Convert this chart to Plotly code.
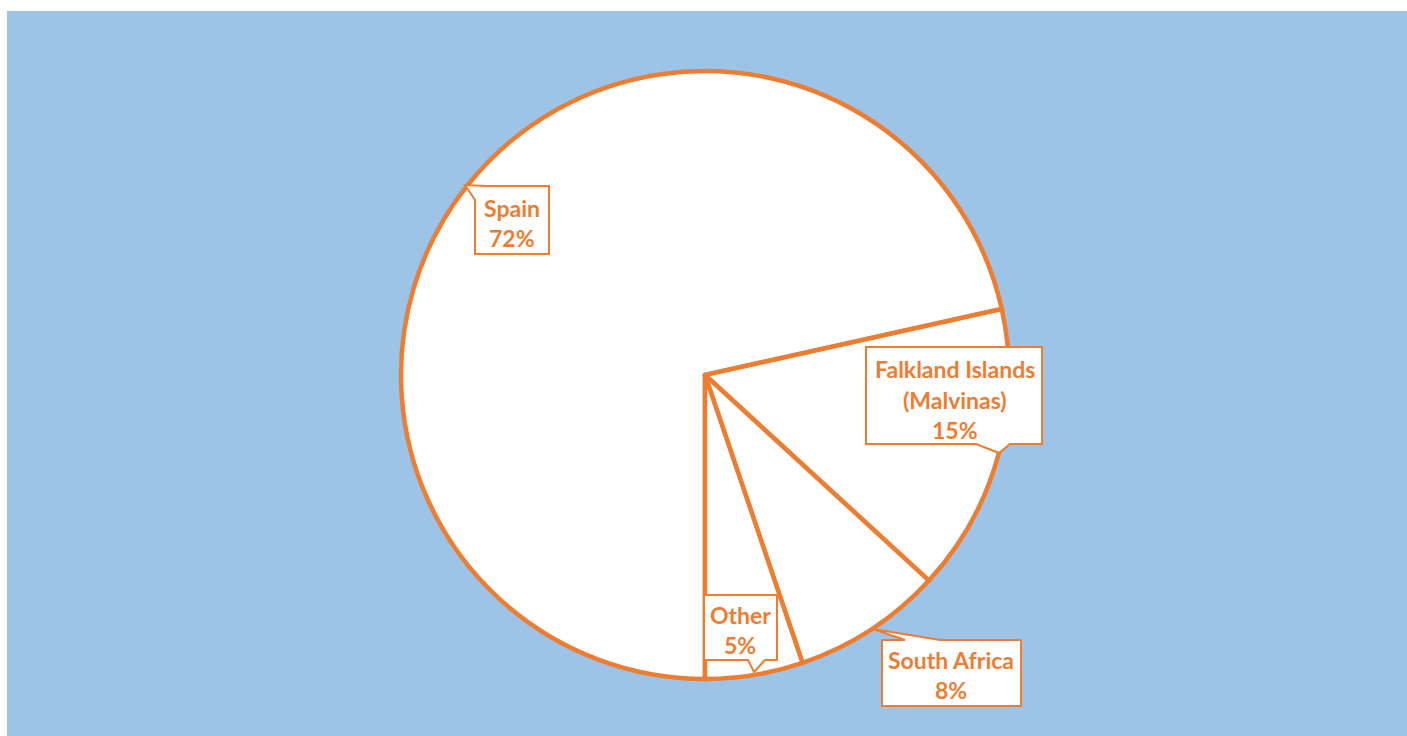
import plotly.graph_objects as go

# ---- data ----
labels = ["Spain", "Falkland Islands (Malvinas)", "South Africa", "Other"]
label_lines = [["Spain"], ["Falkland Islands", "(Malvinas)"], ["South Africa"], ["Other"]]
values = [71.52, 15.3, 7.98, 5.2]

W, H = 1407, 736
ORANGE = "#ED7D31"
BLUE = "#9DC3E6"
FONT = "Lato"
FSIZE = 23


def fx(x):
    return x / W


def fy(y):
    return 1 - y / H


cx, cy, r = 705, 375, 304

fig = go.Figure()
fig.add_trace(go.Pie(
    labels=labels,
    values=values,
    sort=False,
    direction="clockwise",
    rotation=180,
    textinfo="none",
    hoverinfo="label+percent",
    marker=dict(colors=["#FFFFFF"] * len(values), line=dict(color=ORANGE, width=4.5)),
    domain=dict(x=[fx(cx - r), fx(cx + r)], y=[fy(cy + r), fy(cy - r)]),
    showlegend=False,
))

# background panel
shapes = [dict(type="rect", xref="paper", yref="paper", x0=fx(7), x1=fx(W + 5),
               y0=fy(H + 5), y1=fy(11), fillcolor=BLUE, line=dict(width=0), layer="below")]

# callout outlines (pixel positions)
callouts = [
    [(465, 185), (475, 200), (475, 254), (549, 254), (549, 186), (487, 186)],
    [(866, 347), (1042, 347), (1042, 444), (1010, 444), (999, 453), (976, 444), (866, 444)],
    [(704, 595), (777, 595), (777, 660), (765, 660), (754, 672), (748, 660), (704, 660)],
    [(882, 640), (905, 640), (873, 629), (940, 640), (1021, 640), (1021, 706), (882, 706)],
]

for pts in callouts:
    path = "M " + " L ".join(f"{fx(x):.5f},{fy(y):.5f}" for x, y in pts) + " Z"
    shapes.append(dict(type="path", xref="paper", yref="paper", path=path,
                       fillcolor="#FFFFFF", line=dict(color=ORANGE, width=2)))

# text line positions (pixel centers)
text_pos = [
    (512, [208, 238]),
    (955, [369, 400, 430]),
    (951, [660, 690]),
    (740, [615, 645]),
]

total = sum(values)
annotations = []
for i, (lines, v) in enumerate(zip(label_lines, values)):
    pct = f"{round(v / total * 100)}%"
    all_lines = lines + [pct]
    x, ys = text_pos[i]
    for line, y in zip(all_lines, ys):
        annotations.append(dict(
            x=fx(x), y=fy(y), xref="paper", yref="paper", text=f"<b>{line}</b>",
            showarrow=False, xanchor="center", yanchor="middle",
            font=dict(family=FONT, size=FSIZE, color=ORANGE),
        ))

fig.update_layout(
    width=W, height=H, autosize=False,
    margin=dict(l=0, r=0, t=0, b=0),
    paper_bgcolor="#FFFFFF",
    shapes=shapes,
    annotations=annotations,
)

fig.write_html("out.html", config={"displayModeBar": False},
               post_script="document.body.style.margin='0';document.body.style.overflow='hidden';")
